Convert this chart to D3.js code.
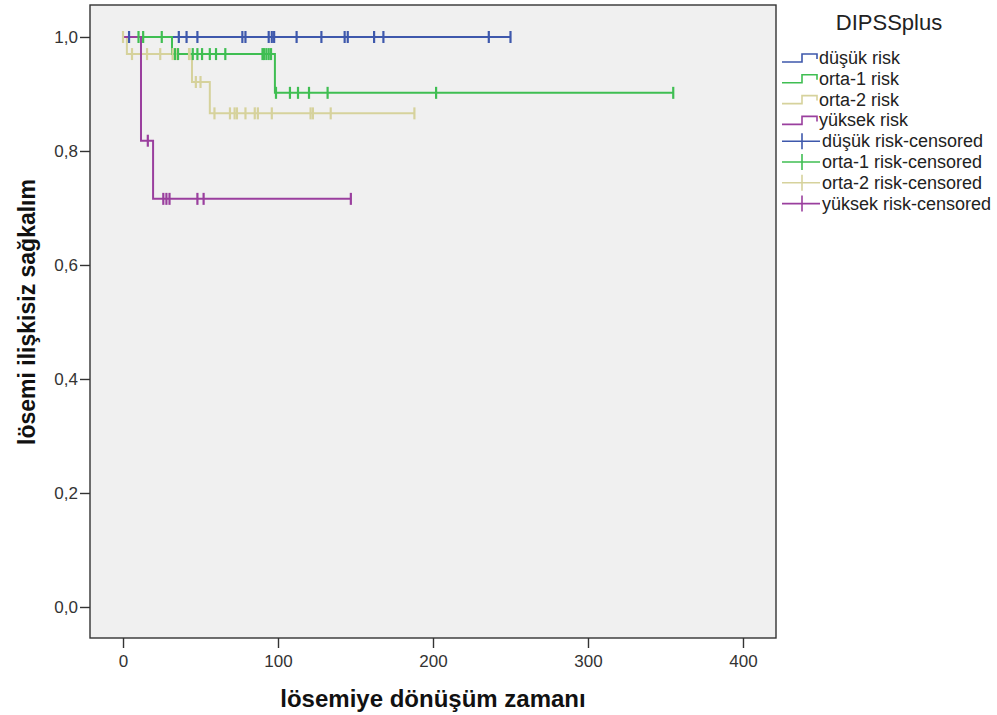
<!DOCTYPE html>
<html>
<head>
<meta charset="utf-8">
<script src="https://cdn.jsdelivr.net/npm/d3@7"></script>
<style>
  html, body { margin: 0; padding: 0; background: #ffffff; }
  svg { display: block; font-family: "Liberation Sans", Arial, sans-serif; }
</style>
</head>
<body>
<svg id="chart" width="997" height="715"></svg>
<script>
// Kaplan–Meier curves by DIPSSplus risk group
const groups = ["düşük risk", "orta-1 risk", "orta-2 risk", "yüksek risk"];
const colors = ["#3e58ac", "#3fbe52", "#d6d29c", "#9a3f9e"];

// event times (drops) and survival after each drop
const eventTimes = [
  [],
  [31.6, 98],
  [2.5, 44.5, 56],
  [11.6, 19.4]
];
const survAfter = [
  [],
  [0.970, 0.902],
  [0.970, 0.921, 0.866],
  [0.818, 0.716]
];
// last follow-up time for each group
const lastTimes = [250, 355, 188, 147];

// censored observation times
const censorTimes = [
  [3.9, 36, 41, 48, 77, 79, 94, 96, 97.5, 112, 128, 143, 145, 162, 168, 236, 250],
  [10, 13, 25, 33.5, 35.5, 45, 48, 51, 56, 60, 66, 90, 91, 92.5, 94, 95.5,
   98.7, 107.7, 112.9, 120, 132, 202, 355],
  [0, 5.8, 15.5, 24, 32, 35, 42.6, 43, 47, 50, 59, 69, 72, 73.5, 79, 85, 87, 96,
   121, 122.5, 134, 188],
  [16, 26, 28, 30, 48, 52, 147]
];

const xTicks = [0, 100, 200, 300, 400];
const yTicks = [0, 0.2, 0.4, 0.6, 0.8, 1.0];

const legendTitle = "DIPSSplus";
const xTitle = "lösemiye dönüşüm zamanı";
const yTitle = "lösemi ilişkisiz sağkalım";

const svg = d3.select("#chart");
const plot = { left: 90, right: 776, top: 5, bottom: 638 };

const x = d3.scaleLinear().domain([-21.3, 421.3]).range([plot.left, plot.right]);
const y = d3.scaleLinear().domain([-0.0544, 1.0561]).range([plot.bottom, plot.top]);

// plot background and frame
svg.append("rect")
  .attr("x", plot.left).attr("y", plot.top)
  .attr("width", plot.right - plot.left).attr("height", plot.bottom - plot.top)
  .attr("fill", "#f0f0f0").attr("stroke", "#333").attr("stroke-width", 1.4);

// axes
const fmt = d => d3.format(".1f")(d).replace(".", ",");
const yAxis = svg.append("g")
  .attr("transform", `translate(${plot.left},0)`)
  .call(d3.axisLeft(y).tickValues(yTicks).tickFormat(fmt).tickSize(10).tickSizeOuter(0));
const xAxis = svg.append("g")
  .attr("transform", `translate(0,${plot.bottom})`)
  .call(d3.axisBottom(x).tickValues(xTicks).tickSize(10).tickSizeOuter(0));
[xAxis, yAxis].forEach(g => {
  g.select(".domain").remove();
  g.selectAll(".tick line").attr("stroke", "#333").attr("stroke-width", 1.4);
  g.selectAll(".tick text").attr("fill", "#333")
    .style("font-family", "'Liberation Sans', Arial, sans-serif").style("font-size", "17px");
});
yAxis.selectAll(".tick text").attr("x", -12).attr("dy", "0.34em");
xAxis.selectAll(".tick text").attr("y", 17);

// axis titles
svg.append("text")
  .attr("x", (plot.left + plot.right) / 2).attr("y", 707)
  .attr("text-anchor", "middle")
  .style("font-size", "24px").style("font-weight", "bold").attr("fill", "#111")
  .text(xTitle);
svg.append("text")
  .attr("transform", `translate(35,312) rotate(-90)`)
  .attr("text-anchor", "middle")
  .style("font-size", "23px").style("font-weight", "bold").attr("fill", "#111")
  .text(yTitle);

// survival step function value at time t
function survAt(i, t) {
  let s = 1;
  eventTimes[i].forEach((et, k) => { if (et <= t) s = survAfter[i][k]; });
  return s;
}

function stepPath(i) {
  const p = d3.path();
  let s = 1;
  p.moveTo(x(0), y(s));
  eventTimes[i].forEach((et, k) => {
    p.lineTo(x(et), y(s));
    s = survAfter[i][k];
    p.lineTo(x(et), y(s));
  });
  p.lineTo(x(lastTimes[i]), y(s));
  return p.toString();
}

const drawOrder = [2, 0, 1, 3];
const curves = svg.append("g");
drawOrder.forEach(i => {
  curves.append("path")
    .attr("d", stepPath(i))
    .attr("fill", "none").attr("stroke", colors[i]).attr("stroke-width", 2);
});
drawOrder.forEach(i => {
  curves.append("g").selectAll("line")
    .data(censorTimes[i]).join("line")
    .attr("x1", d => x(d)).attr("x2", d => x(d))
    .attr("y1", d => y(survAt(i, d)) - 6).attr("y2", d => y(survAt(i, d)) + 6)
    .attr("stroke", colors[i]).attr("stroke-width", 2.2);
});

// legend
const lg = svg.append("g");
lg.append("text").attr("x", 889).attr("y", 30).attr("text-anchor", "middle")
  .style("font-size", "22px").attr("fill", "#222").text(legendTitle);
const rowY = i => 58 + i * 20.8;
groups.forEach((g, i) => {
  const yy = rowY(i);
  lg.append("path")
    .attr("d", `M782,${yy + 4}H802V${yy - 4}H817V${yy + 1}`)
    .attr("fill", "none").attr("stroke", colors[i]).attr("stroke-width", 1.6);
  lg.append("text").attr("x", 819).attr("y", yy + 6)
    .style("font-size", "18px").attr("fill", "#222").text(g);
});
groups.forEach((g, i) => {
  const yy = rowY(i + 4);
  lg.append("line").attr("x1", 782).attr("x2", 820).attr("y1", yy).attr("y2", yy)
    .attr("stroke", colors[i]).attr("stroke-width", 1.6);
  lg.append("line").attr("x1", 802).attr("x2", 802).attr("y1", yy - 8).attr("y2", yy + 8)
    .attr("stroke", colors[i]).attr("stroke-width", 1.6);
  lg.append("text").attr("x", 822).attr("y", yy + 6)
    .style("font-size", "18px").attr("fill", "#222").text(g + "-censored");
});
</script>
</body>
</html>
